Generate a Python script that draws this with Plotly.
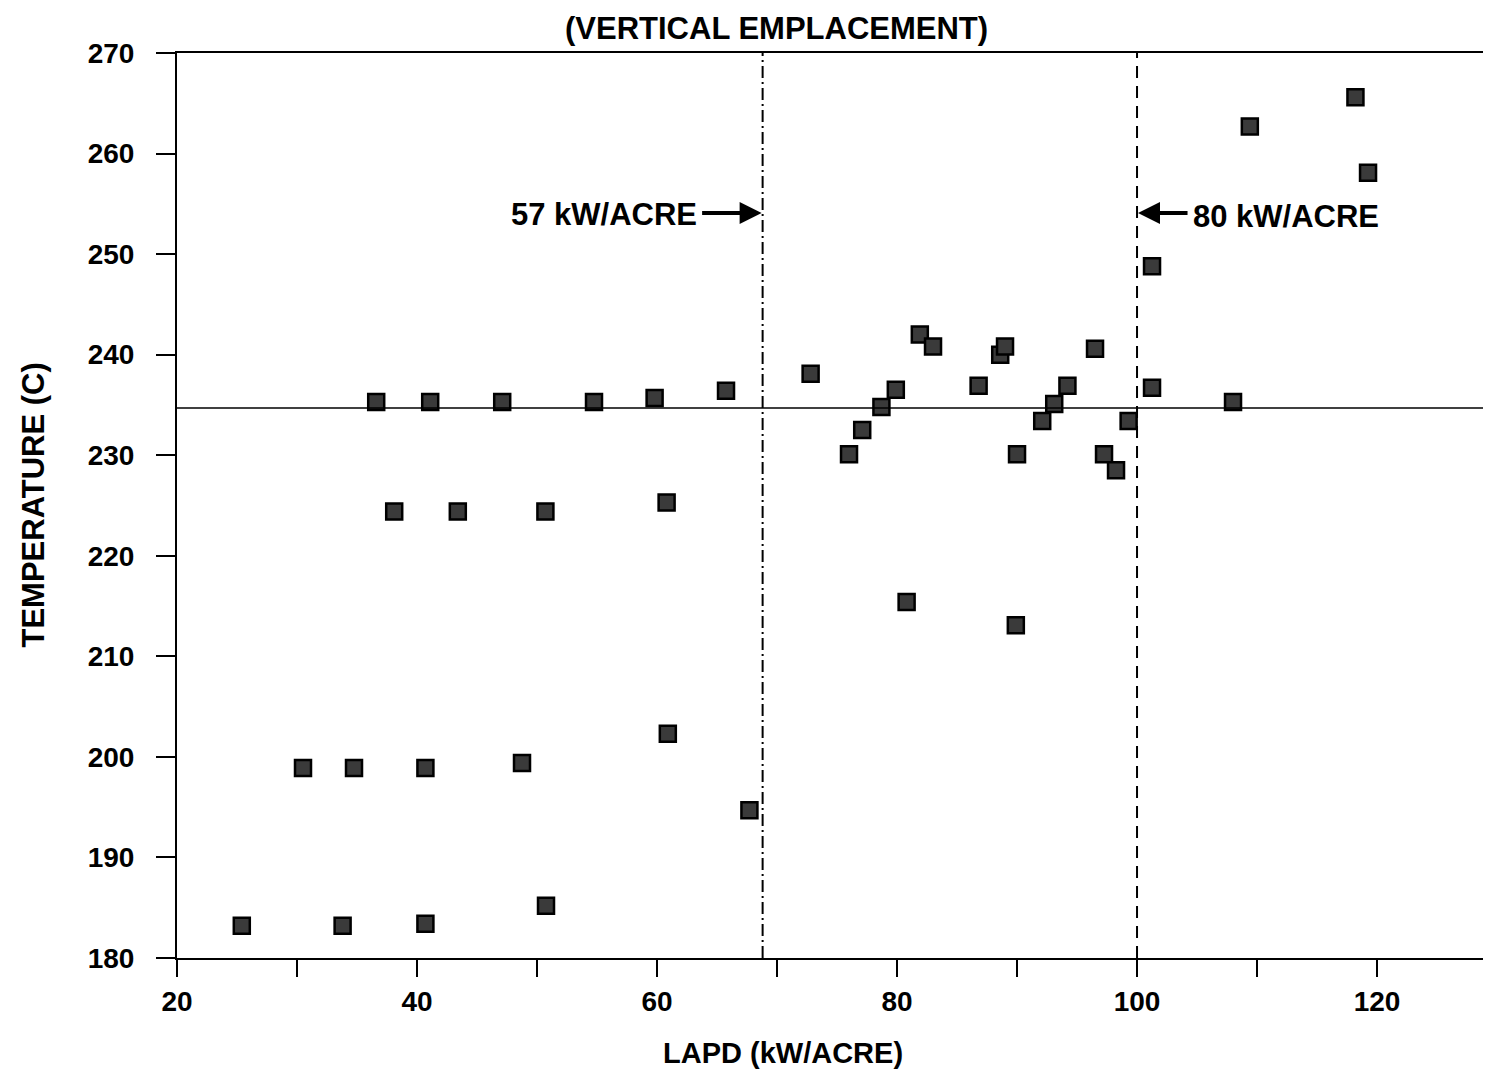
import plotly.graph_objects as go

# Data (LAPD kW/acre vs peak temperature C)
lapd = [25.4, 33.8, 40.7, 50.75, 30.5, 34.75, 40.7, 48.75, 60.9, 67.7,
        38.1, 43.4, 50.7, 60.8, 36.6, 41.1, 47.1, 54.75, 59.8, 65.75,
        72.8, 76.0, 77.1, 78.7, 79.9, 80.8, 81.9, 83.0, 86.8, 88.6,
        89.0, 90.0, 89.9, 92.1, 93.1, 94.2, 96.5, 97.25, 98.25, 99.3,
        101.25, 101.25, 108.0, 109.4, 118.2, 119.25]
temperature = [183.2, 183.2, 183.4, 185.2, 198.9, 198.9, 198.9, 199.4, 202.3, 194.7,
               224.4, 224.4, 224.4, 225.3, 235.3, 235.3, 235.3, 235.3, 235.7, 236.4,
               238.1, 230.1, 232.5, 234.8, 236.5, 215.4, 242.0, 240.8, 236.9, 240.0,
               240.8, 230.1, 213.1, 233.4, 235.1, 236.9, 240.6, 230.1, 228.5, 233.4,
               248.8, 236.7, 235.3, 262.7, 265.6, 258.1]

line_57 = 68.8      # 57 kW/ACRE reference (dash-dot)
line_80 = 100.0     # 80 kW/ACRE reference (dashed)
temp_limit = 234.7  # horizontal reference line
arrow_y = 254.1

x_ticks = [20, 30, 40, 50, 60, 70, 80, 90, 100, 110, 120]
x_ticktext = ["20", "", "40", "", "60", "", "80", "", "100", "", "120"]
y_ticks = [180, 190, 200, 210, 220, 230, 240, 250, 260, 270]

FONT = "Liberation Sans, Arial, sans-serif"

fig = go.Figure()
fig.add_trace(go.Scatter(
    x=lapd, y=temperature, mode="markers",
    marker=dict(symbol="square", size=16, color="#3a3a3a",
                line=dict(color="black", width=2.5)),
    showlegend=False, hoverinfo="x+y"))

shapes = [
    dict(type="line", xref="x", yref="paper", x0=line_57, x1=line_57, y0=0, y1=1,
         line=dict(color="black", width=2, dash="12px,4px,2px,4px")),
    dict(type="line", xref="x", yref="paper", x0=line_80, x1=line_80, y0=0, y1=1,
         line=dict(color="black", width=2, dash="12px,8px")),
    dict(type="line", xref="paper", yref="y", x0=0, x1=1, y0=temp_limit, y1=temp_limit,
         line=dict(color="black", width=1.5)),
]

annotations = [
    # arrows
    dict(x=line_57, y=arrow_y, xref="x", yref="y", text="", showarrow=True,
         ax=-62, ay=0, axref="pixel", ayref="pixel",
         arrowhead=2, arrowsize=1.1, arrowwidth=4, arrowcolor="black", standoff=1),
    dict(x=line_80, y=arrow_y, xref="x", yref="y", text="", showarrow=True,
         ax=52, ay=0, axref="pixel", ayref="pixel",
         arrowhead=2, arrowsize=1.1, arrowwidth=4, arrowcolor="black", standoff=1),
    dict(x=line_57, y=arrow_y, xref="x", yref="y", text="<b>57 kW/ACRE</b>",
         showarrow=False, xanchor="right", yanchor="middle", xshift=-64, yshift=-2,
         font=dict(family=FONT, size=31, color="black")),
    dict(x=line_80, y=arrow_y, xref="x", yref="y", text="<b>80 kW/ACRE</b>",
         showarrow=False, xanchor="left", yanchor="middle", xshift=54, yshift=-4,
         font=dict(family=FONT, size=31, color="black")),
    # title
    dict(x=0.4594, y=1, xref="paper", yref="paper", text="<b>(VERTICAL EMPLACEMENT)</b>",
         showarrow=False, xanchor="center", yanchor="middle", yshift=25,
         font=dict(family=FONT, size=31, color="black")),
    # axis titles
    dict(x=0.464, y=0, xref="paper", yref="paper", text="<b>LAPD (kW/ACRE)</b>",
         showarrow=False, xanchor="center", yanchor="middle", yshift=-95,
         font=dict(family=FONT, size=29, color="black")),
    dict(x=0, y=0.5, xref="paper", yref="paper", text="<b>TEMPERATURE (C)</b>",
         showarrow=False, xanchor="center", yanchor="middle", xshift=-144, textangle=-90,
         font=dict(family=FONT, size=31, color="black")),
]

tick_font = dict(family=FONT, size=28, color="black", weight="bold")

fig.update_layout(
    width=1475, height=1062,
    margin=dict(l=169, r=0, t=45, b=112),
    paper_bgcolor="white", plot_bgcolor="white",
    shapes=shapes, annotations=annotations,
    font=dict(family=FONT, color="black"),
    xaxis=dict(range=[20, 128.83], tickvals=x_ticks, ticktext=x_ticktext,
               ticks="outside", ticklen=17, tickwidth=2, tickcolor="black",
               showline=True, linecolor="black", linewidth=2, mirror=True,
               showgrid=False, zeroline=False, tickfont=tick_font),
    yaxis=dict(range=[180, 270], tickvals=y_ticks,
               ticks="outside", ticklen=19, tickwidth=2, tickcolor="black",
               showline=True, linecolor="black", linewidth=2,
               showgrid=False, zeroline=False, ticklabelstandoff=16,
               tickfont=tick_font),
)

fig.write_html("out.html")
